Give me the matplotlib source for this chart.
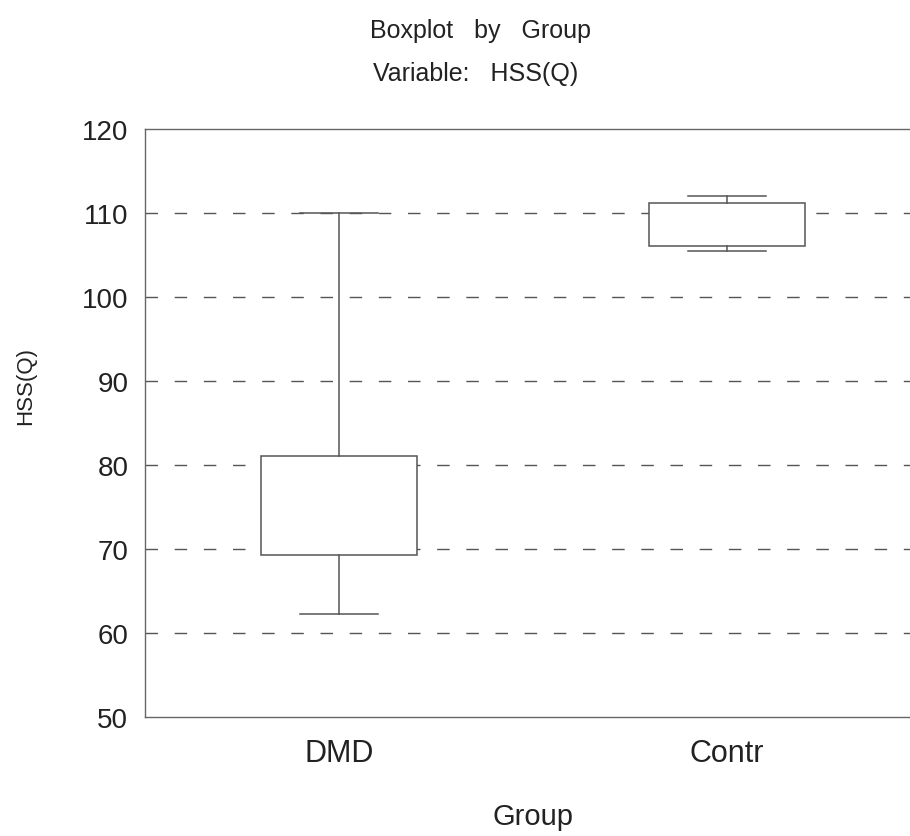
import matplotlib
matplotlib.use("Agg")
import matplotlib.pyplot as plt

plt.rcParams['font.family'] = ['Liberation Sans', 'DejaVu Sans']

# box summary
groups = ['DMD', 'Contr']
whisker_low = [62.3, 105.5]
q1 = [69.3, 106.1]
median = [75.0, 109.0]   # not drawn in the original
q3 = [81.1, 111.2]
whisker_high = [110.0, 112.0]

yticks = [50, 60, 70, 80, 90, 100, 110, 120]
gridlines = [60, 70, 80, 90, 100, 110]

stats = []
for i, g in enumerate(groups):
    stats.append({'label': g, 'whislo': whisker_low[i], 'q1': q1[i],
                  'med': median[i], 'q3': q3[i], 'whishi': whisker_high[i],
                  'fliers': []})

fig = plt.figure(figsize=(9.1, 8.37), dpi=100)
ax = fig.add_axes([145 / 910, 119 / 837, 776 / 910, 588 / 837])

line_col = '#555555'
for y in gridlines:
    ax.axhline(y, color=line_col, lw=1.0, linestyle=(0, (9, 12)), zorder=1)

ax.bxp(stats, positions=[1, 2], widths=0.4, showfliers=False,
       boxprops=dict(color=line_col, lw=1.1),
       whiskerprops=dict(color=line_col, lw=1.1),
       capprops=dict(color=line_col, lw=1.1),
       medianprops=dict(linestyle='none'),
       patch_artist=True)
for p in ax.patches:
    p.set_facecolor('white')
    p.set_edgecolor(line_col)
    p.set_zorder(2)

ax.set_xlim(0.5, 2.5)
ax.set_ylim(50, 120)
ax.set_yticks(yticks)
ax.set_xticks([1, 2])
ax.set_xticklabels(groups)
ax.tick_params(axis='both', length=0, colors='#222222')
ax.tick_params(axis='y', pad=12, labelsize=20)
ax.tick_params(axis='x', pad=15, labelsize=22)

for s in ['left', 'top', 'bottom']:
    ax.spines[s].set_color('#666666')
    ax.spines[s].set_linewidth(1.0)
ax.spines['right'].set_visible(False)

fig.text(481 / 910, 1 - 31 / 837, 'Boxplot   by   Group', ha='center', va='center',
         fontsize=18, color='#222222')
fig.text(476 / 910, 1 - 74 / 837, 'Variable:   HSS(Q)', ha='center', va='center',
         fontsize=18, color='#222222')
fig.text(26 / 910, 1 - 386 / 837, 'HSS(Q)', ha='center', va='center',
         rotation=90, fontsize=16, color='#222222')
fig.text(533 / 910, 1 - 817 / 837, 'Group', ha='center', va='center',
         fontsize=21, color='#222222')

fig.savefig('out.png', dpi=100, facecolor='white')
